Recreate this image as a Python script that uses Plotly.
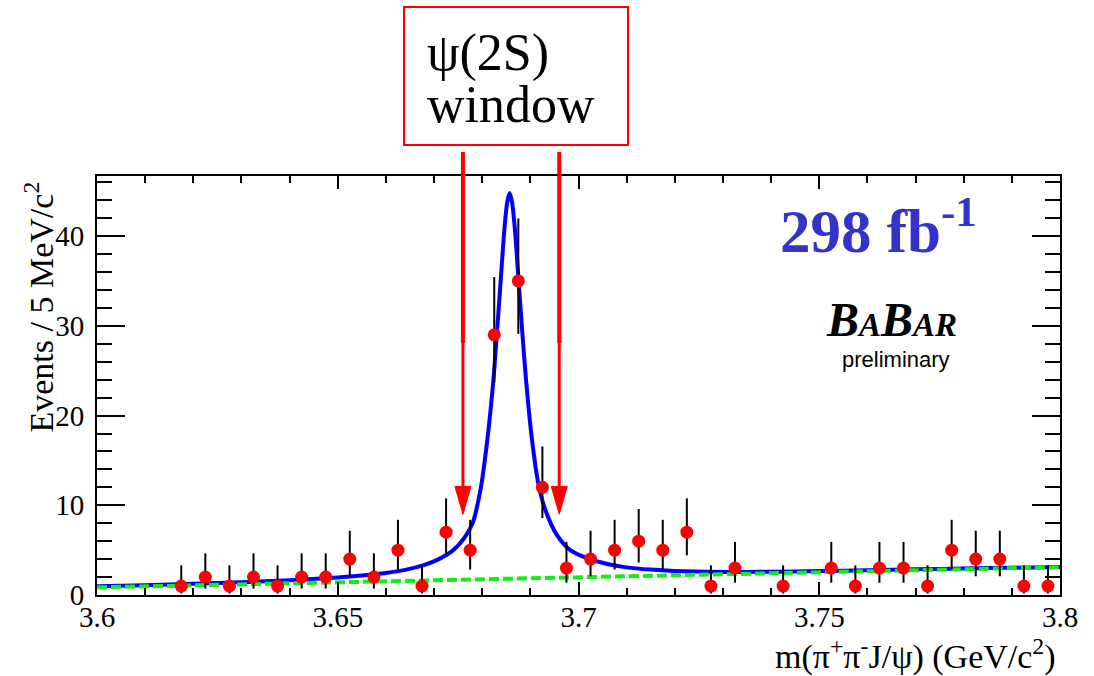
import plotly.graph_objects as go

# ---------------- data ----------------
mass = [3.6175, 3.6225, 3.6275, 3.6325, 3.6375, 3.6425, 3.6475, 3.6525, 3.6575,
        3.6625, 3.6675, 3.6725, 3.6775, 3.6825, 3.6875, 3.6925, 3.6975, 3.7025,
        3.7075, 3.7125, 3.7175, 3.7225, 3.7275, 3.7325, 3.7425, 3.7525, 3.7575,
        3.7625, 3.7675, 3.7725, 3.7775, 3.7825, 3.7875, 3.7925, 3.7975]
counts = [1, 2, 1, 2, 1, 2, 2, 4, 2, 5, 1, 7, 5, 29, 35, 12, 3, 4, 5, 6, 5, 7, 1, 3,
          1, 3, 1, 3, 3, 1, 5, 4, 4, 1, 1]
err_lo = [0.83, 1.29, 0.83, 1.29, 0.83, 1.29, 1.29, 1.91, 1.29, 2.16, 0.83, 2.58,
          2.16, 5.34, 5.89, 3.43, 1.63, 1.91, 2.16, 2.38, 2.16, 2.58, 0.83, 1.63,
          0.83, 1.63, 0.83, 1.63, 1.63, 0.83, 2.16, 1.91, 1.91, 0.83, 0.83]
err_hi = [2.30, 2.64, 2.30, 2.64, 2.30, 2.64, 2.64, 3.16, 2.64, 3.38, 2.30, 3.77,
          3.38, 6.44, 6.97, 4.56, 2.92, 3.16, 3.38, 3.58, 3.38, 3.77, 2.30, 2.92,
          2.30, 2.92, 2.30, 2.92, 2.92, 2.30, 3.38, 3.16, 3.16, 2.30, 2.30]

fit_x = [3.600, 3.610, 3.620, 3.630, 3.640, 3.650, 3.655, 3.660, 3.664, 3.668,
         3.671, 3.674, 3.6762, 3.678, 3.6796, 3.681, 3.6823, 3.6831, 3.6839,
         3.6846, 3.6852, 3.6857, 3.6862, 3.6868, 3.6875, 3.6883, 3.6891, 3.6903,
         3.6917, 3.6931, 3.6955, 3.6983, 3.7018, 3.706, 3.710, 3.715, 3.720,
         3.730, 3.740, 3.750, 3.760, 3.770, 3.780, 3.790, 3.800]
fit_y = [0.97, 1.10, 1.24, 1.42, 1.64, 1.95, 2.17, 2.45, 2.80, 3.35,
         4.00, 5.00, 6.30, 8.00, 11.6, 17.0, 23.8, 29.5, 35.5,
         40.7, 43.8, 44.8, 43.8, 40.7, 35.5, 29.5, 24.0, 17.5,
         12.3, 9.5, 6.7, 5.00, 4.10, 3.45, 3.08, 2.83, 2.68,
         2.57, 2.59, 2.67, 2.76, 2.86, 2.95, 3.04, 3.13]

bkg_x = [3.60, 3.70, 3.80]
bkg_y = [0.85, 1.95, 3.10]

x_tickvals = [3.6, 3.65, 3.7, 3.75, 3.8]
x_ticktext = ["3.6", "3.65", "3.7", "3.75", "3.8"]
y_tickvals = [0, 10, 20, 30, 40]
y_ticktext = ["0", "10", "20", "30", "40"]

window_lo = 3.676
window_hi = 3.696

# ---------------- layout constants ----------------
W, H = 1094, 676
ML, MR, MT, MB = 97, 34, 176, 81
XR = [3.6, 3.8]
YR = [0, 46.7]
SERIF = "Liberation Serif, Times New Roman, serif"
SANS = "Liberation Sans, Arial, sans-serif"


def px_x(p):
    return (p - ML) / (W - ML - MR)


def px_y(p):
    return (H - MB - p) / (H - MT - MB)


fig = go.Figure()

fig.add_trace(go.Scatter(x=fit_x, y=fit_y, mode="lines",
                         line=dict(color="#0000ff", width=4, shape="spline", smoothing=0.8),
                         hoverinfo="skip", showlegend=False))
fig.add_trace(go.Scatter(x=bkg_x, y=bkg_y, mode="lines",
                         line=dict(color="#11ee11", width=4, dash="10px,4px"),
                         hoverinfo="skip", showlegend=False))
fig.add_trace(go.Scatter(x=mass, y=counts, mode="markers",
                         marker=dict(color="#ff0000", size=13, line=dict(width=0)),
                         error_y=dict(type="data", symmetric=False, array=err_hi,
                                      arrayminus=err_lo, color="black", thickness=2, width=0),
                         showlegend=False))

shapes = []
head_half = 8 / (W - ML - MR) * (XR[1] - XR[0])
for xv in (window_lo, window_hi):
    shapes.append(dict(type="line", xref="x", yref="paper", x0=xv, x1=xv,
                       y0=px_y(152), y1=1.0, line=dict(color="#ff0000", width=4)))
    shapes.append(dict(type="line", xref="x", yref="y", x0=xv, x1=xv,
                       y0=YR[1], y1=28.1, line=dict(color="#ff0000", width=4)))
    shapes.append(dict(type="line", xref="x", yref="y", x0=xv, x1=xv,
                       y0=28.1, y1=12.1, line=dict(color="#ff0000", width=3)))
    shapes.append(dict(type="path", xref="x", yref="y",
                       path=f"M {xv-head_half},12.1 L {xv+head_half},12.1 L {xv},9.0 Z",
                       fillcolor="#ff0000", line=dict(color="#ff0000", width=1)))

shapes.append(dict(type="rect", xref="paper", yref="paper",
                   x0=px_x(404), x1=px_x(628), y0=px_y(145), y1=px_y(7),
                   line=dict(color="#ff0000", width=2), fillcolor="rgba(0,0,0,0)"))

annotations = [
    dict(text="ψ(2S)", x=px_x(425), y=px_y(53), xref="paper", yref="paper",
         xanchor="left", yanchor="middle", showarrow=False,
         font=dict(family=SERIF, size=52, color="black")),
    dict(text="window", x=px_x(425), y=px_y(104), xref="paper", yref="paper",
         xanchor="left", yanchor="middle", showarrow=False,
         font=dict(family=SERIF, size=52, color="black")),
    dict(text="<b>298 fb<sup>-1</sup></b>", x=px_x(778), y=px_y(267), xref="paper",
         yref="paper", xanchor="left", yanchor="bottom", showarrow=False,
         font=dict(family=SERIF, size=61, color="#3333cc")),
    dict(text="<b><i>B<span style='font-size:33px'>A</span>B<span style='font-size:33px'>AR</span></i></b>",
         x=px_x(891), y=px_y(348), xref="paper", yref="paper",
         xanchor="center", yanchor="bottom", showarrow=False,
         font=dict(family=SERIF, size=48, color="black")),
    dict(text="preliminary", x=px_x(896), y=px_y(359), xref="paper", yref="paper",
         xanchor="center", yanchor="middle", showarrow=False,
         font=dict(family=SANS, size=22, color="black")),
    dict(text="m(π<sup>+</sup>π<sup>-</sup>J/ψ) (GeV/c<sup>2</sup>)", x=px_x(1058),
         y=px_y(654), xref="paper", yref="paper", xanchor="right", yanchor="middle",
         showarrow=False, font=dict(family=SERIF, size=34, color="black")),
    dict(text="Events / 5 MeV/c<sup>2</sup>", x=px_x(38), y=px_y(180), xref="paper",
         yref="paper", xanchor="center", yanchor="top", textangle=-90,
         showarrow=False, font=dict(family=SERIF, size=34, color="black")),
]

axis_common = dict(showline=True, linecolor="black", linewidth=2, mirror="allticks",
                   ticks="inside", tickcolor="black", tickwidth=2, showgrid=False,
                   zeroline=False, tickfont=dict(family=SERIF, size=29, color="black"))

fig.update_layout(
    width=W, height=H, autosize=False,
    margin=dict(l=ML, r=MR, t=MT, b=MB, pad=0),
    paper_bgcolor="white", plot_bgcolor="white",
    showlegend=False,
    xaxis=dict(range=XR, tickvals=x_tickvals, ticktext=x_ticktext, ticklen=13,
               ticklabelstandoff=-5,
               minor=dict(dtick=0.01, tick0=3.6, ticklen=7, ticks="inside",
                          tickcolor="black", tickwidth=2, showgrid=False),
               **axis_common),
    yaxis=dict(range=YR, tickvals=y_tickvals, ticktext=y_ticktext, ticklen=28,
               ticklabelstandoff=5,
               minor=dict(dtick=2, tick0=0, ticklen=15, ticks="inside",
                          tickcolor="black", tickwidth=2, showgrid=False),
               **axis_common),
    shapes=shapes,
    annotations=annotations,
)

fig.write_html("out.html", config={"displayModeBar": False})
